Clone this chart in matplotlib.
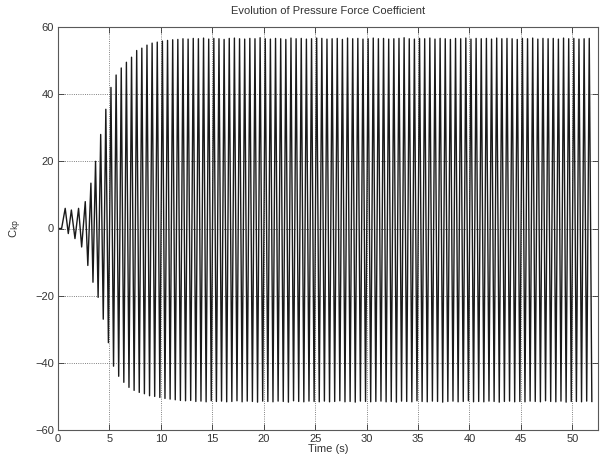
import matplotlib
matplotlib.use("Agg")
import matplotlib.pyplot as plt
import numpy as np

plt.rcParams['font.family'] = ['Liberation Sans', 'DejaVu Sans']

# extremes: start-up transient (time, value)
early_t = [0.0, 0.35, 0.7, 1.0, 1.3, 1.65, 2.0, 2.3, 2.65, 2.9, 3.2, 3.4,
           3.65, 3.9, 4.15, 4.4, 4.65, 4.9, 5.15, 5.4, 5.65, 5.9, 6.15, 6.4,
           6.65, 6.9, 7.15, 7.4, 7.65, 7.9, 8.15, 8.4, 8.65, 8.9, 9.15, 9.4,
           9.65, 9.9, 10.15, 10.4]
early_c = [0.0, 0.0, 6.0, -1.5, 5.5, -3.0, 6.0, -5.5, 8.0, -11.0, 13.5, -16.0,
           20.0, -20.5, 28.0, -27.0, 35.5, -34.0, 42.0, -41.0, 45.7, -44.0, 47.8, -45.8,
           49.5, -47.3, 51.0, -48.2, 53.0, -48.8, 53.7, -49.2, 54.6, -49.8, 55.2, -50.0,
           55.5, -50.3, 55.8, -50.6]

# saturated regime: one crest and one trough per cycle
first_crest = 10.65
half_period = 0.25
crests = [56.0, 56.2, 56.3, 56.5, 56.4, 56.6, 56.5, 56.7, 56.4, 56.6,
          56.5, 56.3, 56.6, 56.7, 56.5, 56.4, 56.6, 56.5, 56.8, 56.5,
          56.4, 56.6, 56.5, 56.3, 56.7, 56.5, 56.6, 56.4, 56.5, 56.7,
          56.6, 56.4, 56.5, 56.6, 56.3, 56.7, 56.5, 56.6, 56.4, 56.5,
          56.7, 56.5, 56.6, 56.4, 56.5, 56.6, 56.8, 56.5, 56.4, 56.6,
          56.5, 56.7, 56.4, 56.6, 56.5, 56.3, 56.6, 56.5, 56.7, 56.4,
          56.6, 56.5, 56.6, 56.4, 56.7, 56.5, 56.6, 56.5, 56.3, 56.6,
          56.5, 56.7, 56.4, 56.6, 56.5, 56.6, 56.4, 56.7, 56.5, 56.6,
          56.4, 56.5, 56.6]
troughs = [-50.8, -51.0, -51.2, -51.3, -51.2, -51.5, -51.4, -51.6, -51.3, -51.5,
           -51.4, -51.6, -51.5, -51.3, -51.6, -51.4, -51.5, -51.7, -51.4, -51.5,
           -51.6, -51.4, -51.5, -51.7, -51.3, -51.5, -51.6, -51.4, -51.5, -51.6,
           -51.4, -51.6, -51.5, -51.3, -51.6, -51.5, -51.7, -51.4, -51.5, -51.6,
           -51.5, -51.4, -51.6, -51.5, -51.7, -51.4, -51.5, -51.6, -51.3, -51.5,
           -51.6, -51.4, -51.5, -51.7, -51.5, -51.4, -51.6, -51.5, -51.3, -51.6,
           -51.5, -51.6, -51.4, -51.5, -51.7, -51.5, -51.4, -51.6, -51.5, -51.6,
           -51.4, -51.5, -51.6, -51.3, -51.5, -51.6, -51.4, -51.7, -51.5, -51.5,
           -51.6, -51.4, -51.5]

late_c = np.ravel(np.column_stack([crests, troughs]))
late_t = first_crest + half_period * np.arange(len(late_c))

t = np.concatenate([early_t, late_t])
c = np.concatenate([early_c, late_c])

fig = plt.figure(figsize=(6.06, 4.62), dpi=100)
ax = fig.add_axes([58/606, 1 - 430/462, (598-58)/606, (430-27)/462])

ax.plot(t, c, color='0.1', lw=1.0)

ax.set_xlim(0, 52.5)
ax.set_ylim(-60, 60)
ax.set_xticks(np.arange(0, 51, 5))
ax.set_yticks(np.arange(-60, 61, 20))
ax.grid(True, linestyle=':', color='0.35', lw=0.6)
ax.tick_params(direction='in', top=True, right=True, length=4, width=0.6,
               labelsize=8, colors='0.2', pad=3)
for s in ax.spines.values():
    s.set_color('0.35')
    s.set_linewidth(0.8)

ax.set_title('Evolution of Pressure Force Coefficient', fontsize=8, color='0.2', pad=9)
ax.set_xlabel('Time (s)', fontsize=8, color='0.2', labelpad=0)
ax.set_ylabel(r'C$_{\mathrm{kp}}$', fontsize=8, color='0.2', labelpad=8)

fig.savefig('out.png', dpi=100)
